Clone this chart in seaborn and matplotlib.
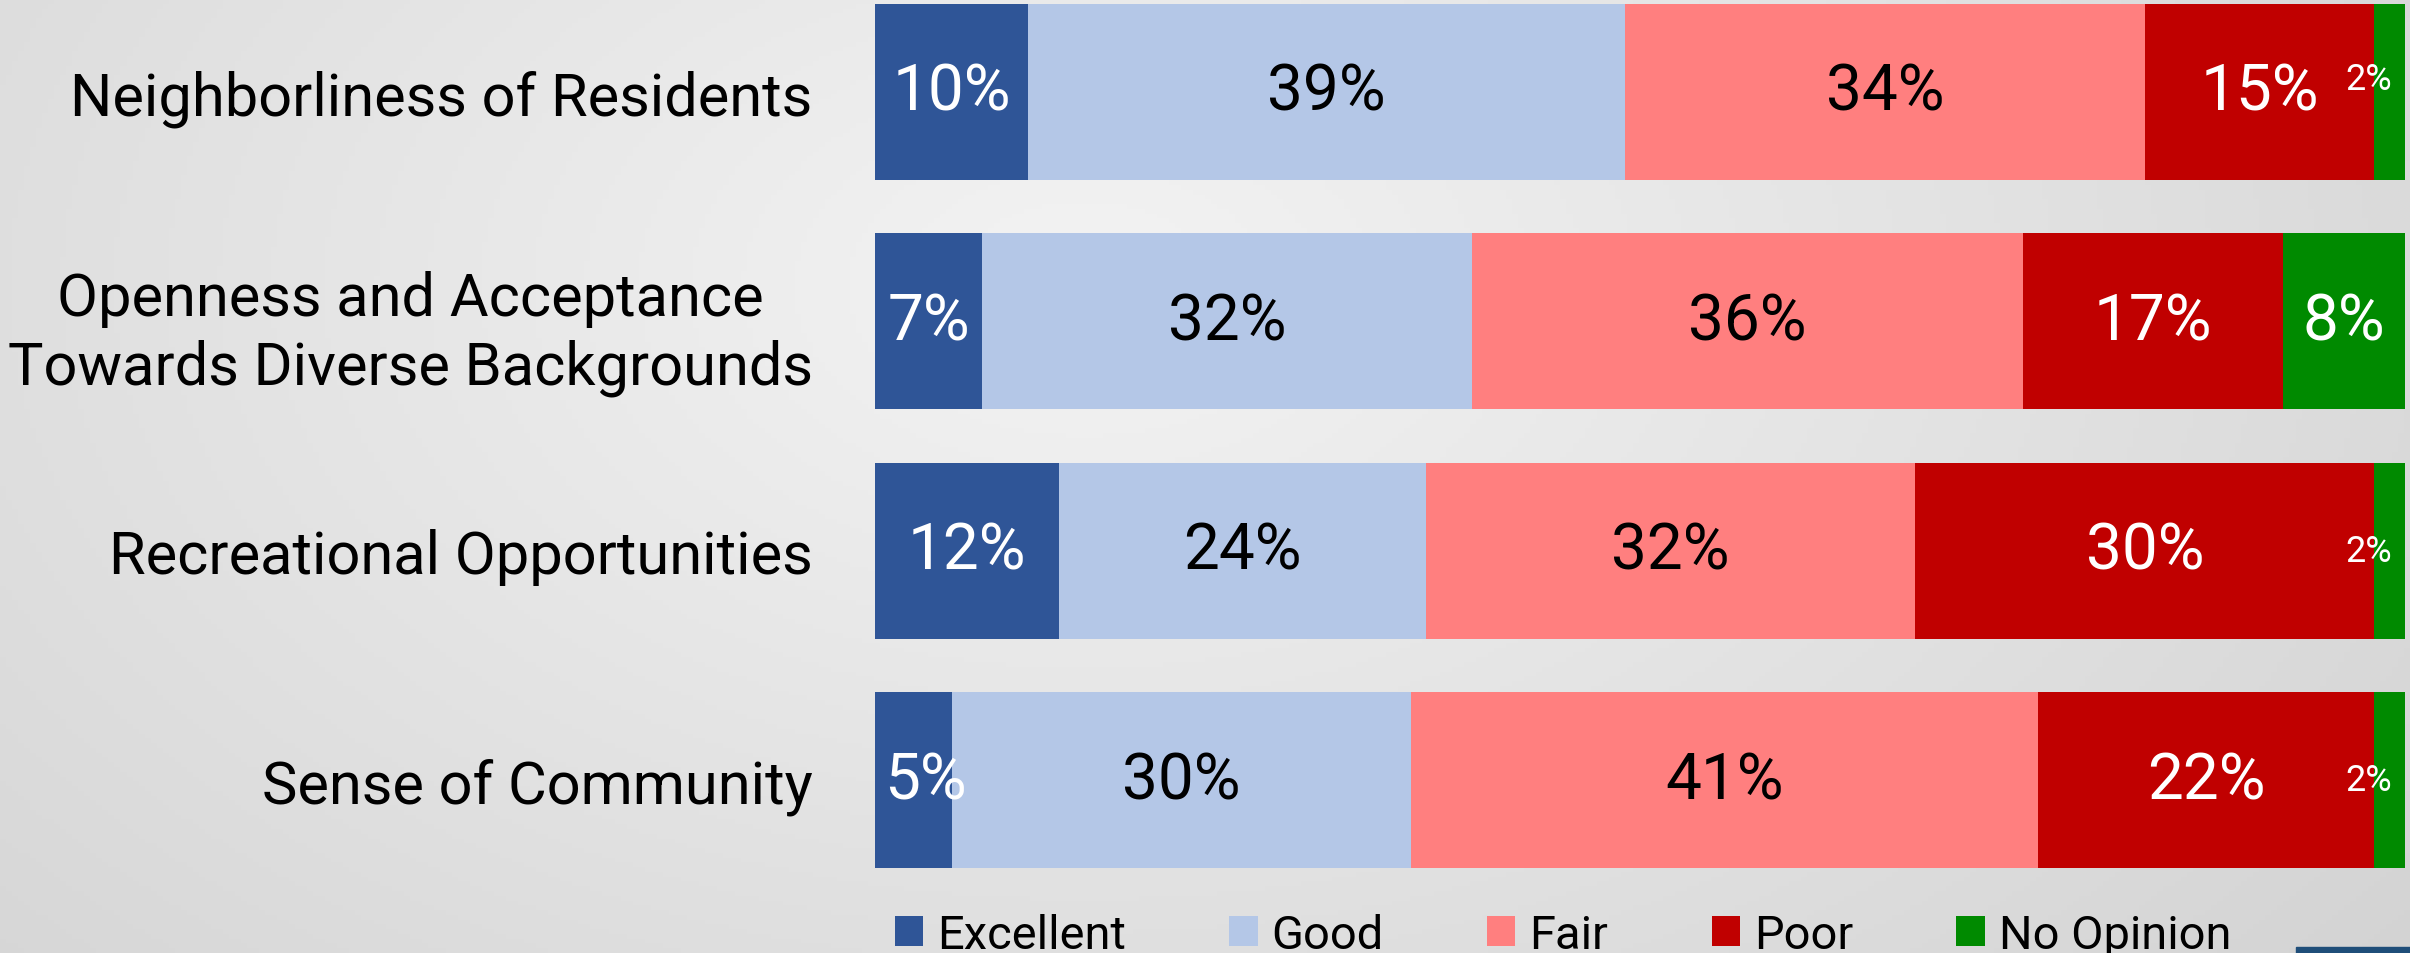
import numpy as np
import pandas as pd
import seaborn as sns
import matplotlib.pyplot as plt
from matplotlib.patches import Patch, Rectangle

aspects = [
    "Neighborliness of Residents",
    "Openness and Acceptance\nTowards Diverse Backgrounds",
    "Recreational Opportunities",
    "Sense of Community",
]
ratings = ["Excellent", "Good", "Fair", "Poor", "No Opinion"]
excellent = [10, 7, 12, 5]
good = [39, 32, 24, 30]
fair = [34, 36, 32, 41]
poor = [15, 17, 30, 22]
no_opinion = [2, 8, 2, 2]

colors = ["#2F5597", "#B4C7E7", "#FF7F7F", "#C00000", "#008A00"]
text_colors = ["white", "black", "black", "white", "white"]

sns.set_style("white")
plt.rcParams["font.family"] = ["Roboto", "DejaVu Sans"]

# long table with left/right edge of each stacked segment
values = np.array([excellent, good, fair, poor, no_opinion])
right = values.cumsum(axis=0)
left = right - values
rows = []
for j, r in enumerate(ratings):
    for i, a in enumerate(aspects):
        rows.append({"aspect": a, "rating": r, "value": values[j, i],
                     "left": left[j, i], "right": right[j, i]})
df = pd.DataFrame(rows)

fig = plt.figure(figsize=(24.1, 9.54), dpi=100)

# soft grey backdrop
bg = fig.add_axes([0, 0, 1, 1], zorder=-10)
yy, xx = np.mgrid[0:1:200j, 0:1:400j]
r = np.sqrt(((xx - 0.45) / 0.5) ** 2 + ((yy - 0.3) / 0.8) ** 2)
gray = np.clip(0.955 - 0.09 * r, 0, 1)
bg.imshow(np.dstack([gray] * 3), extent=[0, 1, 0, 1], aspect="auto", origin="upper")
bg.axis("off")

ax = fig.add_axes([875 / 2410, 81 / 954, 1530 / 2410, 872 / 954])
ax.set_facecolor("none")

# stacked bars: draw cumulative totals, last rating first so earlier ones sit on top
sns.barplot(data=df, x="right", y="aspect", hue="rating", order=aspects,
            hue_order=ratings[::-1], palette=dict(zip(ratings, colors)), saturation=1,
            dodge=False, width=0.767, errorbar=None, linewidth=0, legend=False, ax=ax)

for _, row in df.iterrows():
    i = aspects.index(row["aspect"])
    j = ratings.index(row["rating"])
    if row["value"] <= 2:
        dy = -0.055 if i == 0 else 0
        ax.text(row["left"] - 0.35, i + dy, f"{row['value']}%", ha="center", va="center",
                fontsize=26, color=text_colors[j])
    else:
        x = (row["left"] + row["right"]) / 2
        if row["value"] < 6:
            x += 0.8
        ax.text(x, i, f"{row['value']}%", ha="center",
                va="center", fontsize=46, color=text_colors[j])

ax.set_xlim(0, 100)
ax.set_ylim(3.4, -0.4)
ax.set_xlabel("")
ax.set_ylabel("")
ax.set_xticks([])
ax.set_yticks(range(len(aspects)))
ax.set_yticklabels(aspects, fontsize=42.8, color="black", multialignment="center",
                   linespacing=1.25)
ax.tick_params(axis="y", length=0, pad=45)
sns.despine(ax=ax, left=True, bottom=True)

handles = [Patch(facecolor=c, edgecolor="none") for c in colors]
fig.legend(handles, ratings, ncol=5, frameon=False, fontsize=33.8, labelcolor="black",
           loc="lower left", bbox_to_anchor=(895 / 2410, -0.004),
           bbox_transform=fig.transFigure, borderpad=0, borderaxespad=0,
           handlelength=0.6, handleheight=0.6, handletextpad=0.3, columnspacing=2.2)

fig.patches.append(Rectangle((2296 / 2410, 0), 114 / 2410, 6 / 954, color="#1F4E79",
                             transform=fig.transFigure, zorder=5))

fig.savefig("out.png", dpi=100)
